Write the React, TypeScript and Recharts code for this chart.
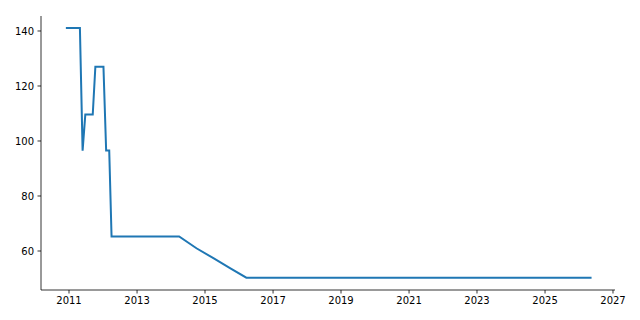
import React from 'react';
import { LineChart, Line, XAxis, YAxis } from 'recharts';

// dates of each change
const dates = [
  '2010-12-09', '2011-04-28', '2011-05-27', '2011-06-25', '2011-09-13',
  '2011-10-11', '2012-01-06', '2012-02-04', '2012-03-08', '2012-04-02',
  '2014-03-29', '2014-10-01', '2015-04-01', '2015-10-01', '2016-03-20',
  '2026-05-05',
];
const values = [
  141.1, 141.1, 96.5, 109.6, 109.6,
  127.0, 127.0, 96.5, 96.5, 65.3,
  65.3, 61.0, 57.4, 53.7, 50.3,
  50.3,
];
const yearTicks = [2011, 2013, 2015, 2017, 2019, 2021, 2023, 2025, 2027];
const valueTicks = [60, 80, 100, 120, 140];

const toTime = (d: string) => new Date(d + 'T00:00:00Z').getTime();
const yearStart = (y: number) => Date.UTC(y, 0, 1);
const YEAR_MS = 365.25 * 24 * 3600 * 1000;
const fromDecimalYear = (y: number) => yearStart(2011) + (y - 2011) * YEAR_MS;

const data = dates.map((d, i) => ({ t: toTime(d), v: values[i] }));

// axis limits as in the reference
const xDomain: [number, number] = [fromDecimalYear(2010.176), fromDecimalYear(2027.059)];
const yDomain: [number, number] = [45.82, 145.45];

const tickStyle = { fontFamily: 'DejaVu Sans', fontSize: 10, fill: '#000' };

export default function App() {
  return (
    <div style={{ position: 'absolute', left: 0, top: 0, background: '#fff' }}>
      <LineChart
        width={640}
        height={320}
        data={data}
        margin={{ top: 16, right: 25, left: 0, bottom: 0 }}
      >
        <XAxis
          dataKey="t"
          type="number"
          domain={xDomain}
          allowDataOverflow
          ticks={yearTicks.map(yearStart)}
          tickFormatter={(t: number) => String(new Date(t).getUTCFullYear())}
          height={30}
          tickSize={3.5}
          tickMargin={3.5}
          tick={tickStyle}
          stroke="#000"
          strokeWidth={0.8}
          tickLine={{ stroke: '#000', strokeWidth: 0.8 }}
        />
        <YAxis
          type="number"
          domain={yDomain}
          allowDataOverflow
          ticks={valueTicks}
          width={41}
          tickSize={3.5}
          tickMargin={3.5}
          tick={tickStyle}
          stroke="#000"
          strokeWidth={0.8}
          tickLine={{ stroke: '#000', strokeWidth: 0.8 }}
        />
        <Line
          type="linear"
          dataKey="v"
          stroke="#1f77b4"
          strokeWidth={2}
          strokeLinecap="square"
          dot={false}
          isAnimationActive={false}
        />
      </LineChart>
    </div>
  );
}
